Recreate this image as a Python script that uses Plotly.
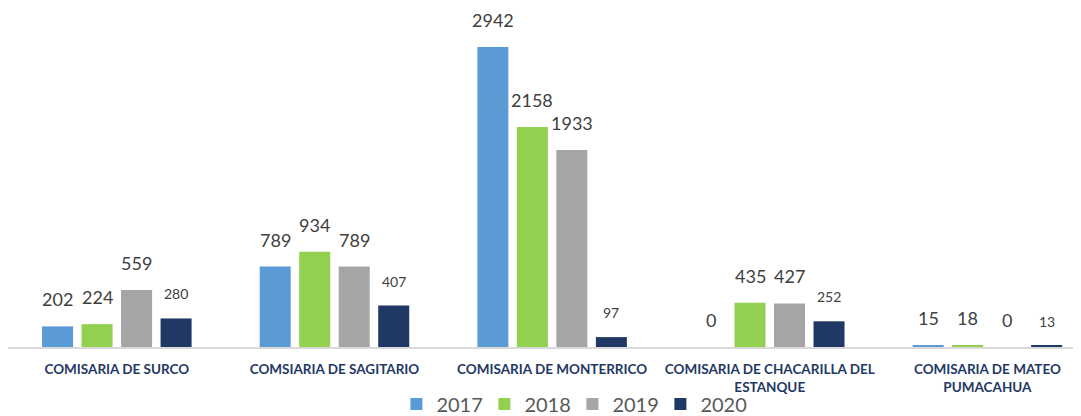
import plotly.graph_objects as go

categories = ["COMISARIA DE SURCO", "COMSIARIA DE SAGITARIO", "COMISARIA DE MONTERRICO",
              "COMISARIA DE CHACARILLA DEL<br>ESTANQUE", "COMISARIA DE MATEO<br>PUMACAHUA"]
years = ["2017", "2018", "2019", "2020"]
v2017 = [202, 789, 2942, 0, 15]
v2018 = [224, 934, 2158, 435, 18]
v2019 = [559, 789, 1933, 427, 0]
v2020 = [280, 407, 97, 252, 13]
series = [v2017, v2018, v2019, v2020]
colors = ["#5B9BD5", "#92D050", "#A5A5A5", "#1F3864"]
label_sizes = [18, 18, 18, 14]

bar_w = 0.1425
step = 0.1815
font = "Lato"

fig = go.Figure()
annotations = []
for k, (yr, vals) in enumerate(zip(years, series)):
    off = (k - 1.5) * step
    xs = [i + off for i in range(len(categories))]
    fig.add_trace(go.Bar(x=xs, y=vals, width=bar_w, name=yr,
                         marker=dict(color=colors[k], line=dict(width=0))))
    for x, v in zip(xs, vals):
        annotations.append(dict(x=x, y=v, xref="x", yref="y", text=str(v), showarrow=False,
                                yanchor="bottom", yshift=14,
                                font=dict(family=font, size=label_sizes[k], color="#404040")))

# page body adds an 8px margin, so the figure is sized to fit the window
fig.update_layout(
    width=1073, height=408,
    margin=dict(l=0, r=0, t=0, b=69, autoexpand=False),
    paper_bgcolor="white", plot_bgcolor="white",
    barmode="overlay",
    annotations=annotations,
    showlegend=True,
    legend=dict(orientation="h", x=0.526, xanchor="center", y=-0.168, yanchor="middle",
                font=dict(family=font, size=20, color="#595959"),
                bgcolor="rgba(0,0,0,0)",
                entrywidth=43, itemwidth=30, traceorder="normal"),
    xaxis=dict(range=[-0.5, 4.43], tickvals=list(range(len(categories))),
               ticktext=["<b>" + c + "</b>" for c in categories],
               tickfont=dict(family=font, size=13.5, color="#1F3864"),
               showline=True, linecolor="#D9D9D9", linewidth=2, showgrid=False,
               ticks="", zeroline=False, automargin=False, ticklabelstandoff=9),
    yaxis=dict(range=[0, 3325], visible=False, showgrid=False, zeroline=False, automargin=False),
)

fig.write_html("out.html")
